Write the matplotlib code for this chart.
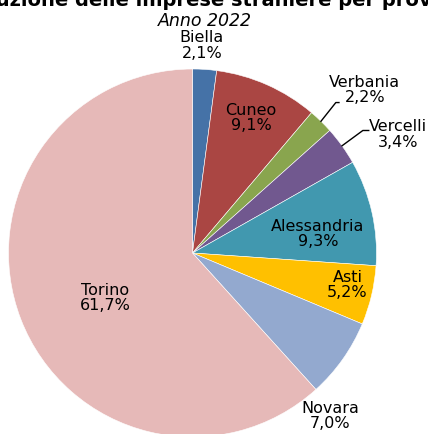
import numpy as np
import matplotlib
matplotlib.use("Agg")
import matplotlib.pyplot as plt

# Imprese straniere per provincia, Piemonte, anno 2022 (quote %)
province = ["Biella", "Cuneo", "Verbania", "Vercelli", "Alessandria", "Asti", "Novara", "Torino"]
quote = [2.1, 9.1, 2.2, 3.4, 9.3, 5.2, 7.0, 61.7]
colori = ["#4572A7", "#AA4643", "#89A54E", "#71588F", "#4198AF", "#FFC000", "#93A9CF", "#E6B9B8"]

# label layout: radius factor, angle nudge (deg)
lab_r = [1.13, 0.80, 1.29, 1.29, 0.69, 0.86, 1.16, 0.535]
lab_da = [1.2, 0.5, -2.3, -5.7, -4.2, 1.6, -14.5, 6.1]
# leader lines: (elbow dx, end dx, dy) relative to label centre, or None
leader = [None, None, (-0.158, -0.141, -0.069), (-0.192, -0.160, 0.022),
          None, None, None, None]

W, H = 428, 434
R_PX = 184.0
CX, CY = 192.5, 253.0  # centre in px from top-left

fig = plt.figure(figsize=(W / 100, H / 100), dpi=100)
ax = fig.add_axes([0, 0, 1, 1])

wedges, _ = ax.pie(quote, colors=colori, startangle=90, counterclock=False,
                   radius=1.0, center=(0, 0),
                   wedgeprops=dict(edgecolor="white", linewidth=0.4))

# pie() resets the limits, so set them afterwards
ax.set_xlim(-CX / R_PX, (W - CX) / R_PX)
ax.set_ylim(-(H - CY) / R_PX, CY / R_PX)
ax.set_aspect("equal", adjustable="datalim")
ax.axis("off")

for w, nome, q, r, da, ld in zip(wedges, province, quote, lab_r, lab_da, leader):
    mid = (w.theta1 + w.theta2) / 2
    ang = np.deg2rad(mid + da)
    tx, ty = r * np.cos(ang), r * np.sin(ang)
    testo = f"{nome}\n{q:.1f}%".replace(".", ",")
    ax.text(tx, ty, testo, ha="center", va="center", fontsize=11.5,
            linespacing=1.05, color="#000000")
    if ld is not None:
        m = np.deg2rad(mid)
        ex, ey = np.cos(m), np.sin(m)
        dxe, dxn, dy = ld
        ax.plot([ex, tx + dxe, tx + dxn], [ey, ty + dy, ty + dy],
                color="black", lw=1.0)

fig.text(0.474, 1 - 6 / H, "Distribuzione delle imprese straniere per provincia",
         ha="center", va="baseline", fontsize=14, fontweight="bold")
fig.text(0.478, 1 - 26 / H, "Anno 2022", ha="center", va="baseline",
         fontsize=12.5, style="italic")

fig.savefig("out.png", dpi=100)
